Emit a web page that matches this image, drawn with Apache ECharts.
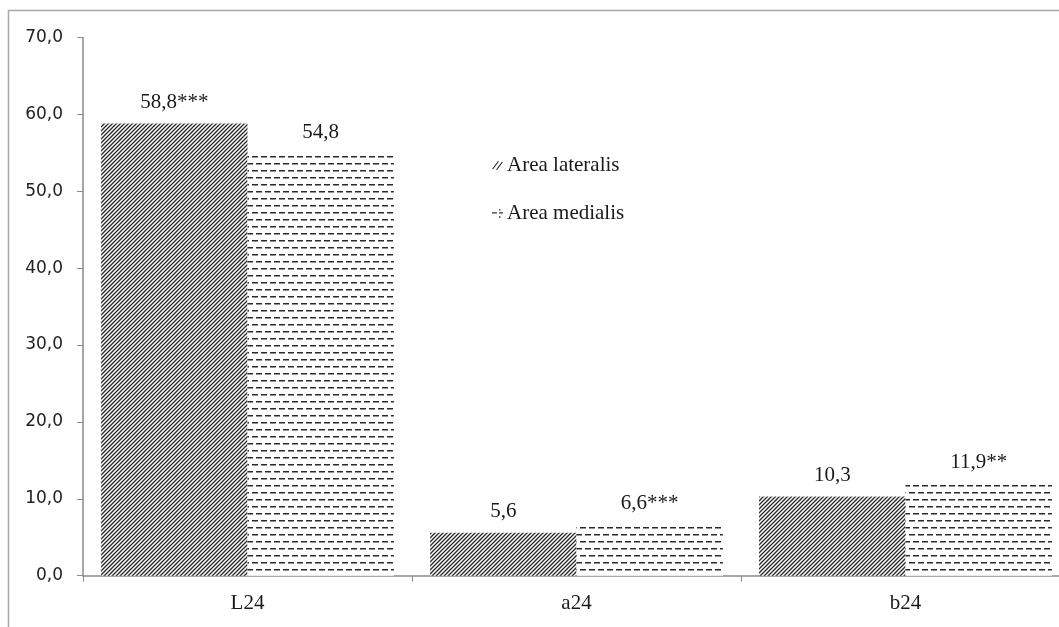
<!DOCTYPE html>
<html>
<head>
<meta charset="utf-8">
<script src="https://cdn.jsdelivr.net/npm/echarts@6/dist/echarts.min.js"></script>
<style>
html,body{margin:0;padding:0;background:#fff;}
#c{width:1059px;height:627px;}
</style>
</head>
<body>
<div id="c"></div>
<script>
var categories = ['L24', 'a24', 'b24'];
var seriesNames = ['Area lateralis', 'Area medialis'];
var lateralis = [58.8, 5.6, 10.3];
var medialis = [54.8, 6.6, 11.9];
var lateralisLabels = ['58,8***', '5,6', '10,3'];
var medialisLabels = ['54,8', '6,6***', '11,9**'];
var yTicks = [0, 10, 20, 30, 40, 50, 60, 70];

function diagPattern() {
  var c = document.createElement('canvas');
  c.width = 8; c.height = 8;
  var g = c.getContext('2d');
  g.fillStyle = '#fff'; g.fillRect(0, 0, 8, 8);
  g.strokeStyle = '#2a2a2a'; g.lineWidth = 1.3;
  for (var k = -2; k <= 2; k++) {
    g.beginPath();
    g.moveTo(k * 4 - 1, 9);
    g.lineTo(k * 4 + 9, -1);
    g.stroke();
  }
  return c;
}
function dashPattern() {
  var c = document.createElement('canvas');
  c.width = 18; c.height = 14;
  var g = c.getContext('2d');
  g.fillStyle = '#fff'; g.fillRect(0, 0, 18, 14);
  g.fillStyle = '#2a2a2a';
  g.fillRect(0, 2, 6, 1.5);
  g.fillRect(9, 2, 6, 1.5);
  g.fillRect(4, 9, 6, 1.5);
  g.fillRect(13, 9, 5, 1.5);
  g.fillRect(0, 9, 1, 1.5);
  return c;
}

var chart = echarts.init(document.getElementById('c'), null, {renderer: 'canvas'});
var serif = '"Liberation Serif", "Times New Roman", serif';
var option = {
  animation: false,
  backgroundColor: '#fff',
  graphic: [{
    type: 'rect',
    shape: {x: 8.5, y: 10.5, width: 1200, height: 800},
    style: {fill: 'none', stroke: '#a8a8a8', lineWidth: 1.5},
    silent: true,
    z: -1
  }],
  grid: {left: 83, width: 987, top: 37.5, bottom: 51.3, containLabel: false, outerBoundsMode: 'none'},
  legend: {
    orient: 'vertical',
    left: 487,
    top: 150,
    itemGap: 27,
    itemWidth: 11,
    itemHeight: 10,
    textStyle: {fontFamily: serif, fontSize: 21, color: '#1a1a1a', padding: [0, 0, 0, -1]},
    data: [{
      name: seriesNames[0],
      icon: 'path://M0,8 L6,0 L7.4,0 L1.4,8 Z M4,9 L10,1 L11.4,1 L5.4,9 Z',
      itemStyle: {color: '#333'}
    }, {
      name: seriesNames[1],
      icon: 'path://M0,3 L5,3 L5,4.3 L0,4.3 Z M7,3 L11,3 L11,4.3 L7,4.3 Z M7,7 L8.5,7 L8.5,8.4 L7,8.4 Z M7,0 L8.5,0 L8.5,1.3 L7,1.3 Z',
      itemStyle: {color: '#333'}
    }]
  },
  xAxis: {
    type: 'category',
    data: categories,
    axisLine: {lineStyle: {color: '#8a8a8a', width: 1.5}},
    axisTick: {show: true, length: 6, lineStyle: {color: '#8a8a8a'}},
    axisLabel: {fontFamily: serif, fontSize: 21, color: '#1a1a1a', margin: 17}
  },
  yAxis: {
    type: 'value',
    min: 0, max: 70, interval: 10,
    axisLine: {show: true, lineStyle: {color: '#8a8a8a', width: 1.5}},
    axisTick: {show: true, length: 6, lineStyle: {color: '#8a8a8a'}},
    splitLine: {show: false},
    axisLabel: {
      fontFamily: '"DejaVu Sans", Verdana, sans-serif', fontSize: 17, color: '#222', margin: 20,
      formatter: function (v) { return v.toFixed(1).replace('.', ','); }
    }
  },
  series: [{
    name: seriesNames[0],
    type: 'bar',
    data: lateralis,
    barGap: '0%',
    barCategoryGap: '11%',
    itemStyle: {color: {image: diagPattern(), repeat: 'repeat'}},
    label: {
      show: true, position: 'top', distance: 11,
      fontFamily: serif, fontSize: 21, color: '#1a1a1a',
      formatter: function (p) { return lateralisLabels[p.dataIndex]; }
    }
  }, {
    name: seriesNames[1],
    type: 'bar',
    data: medialis,
    barGap: '0%',
    barCategoryGap: '11%',
    itemStyle: {color: {image: dashPattern(), repeat: 'repeat'}},
    label: {
      show: true, position: 'top', distance: 11,
      fontFamily: serif, fontSize: 21, color: '#1a1a1a',
      formatter: function (p) { return medialisLabels[p.dataIndex]; }
    }
  }]
};
chart.setOption(option);
</script>
</body>
</html>
